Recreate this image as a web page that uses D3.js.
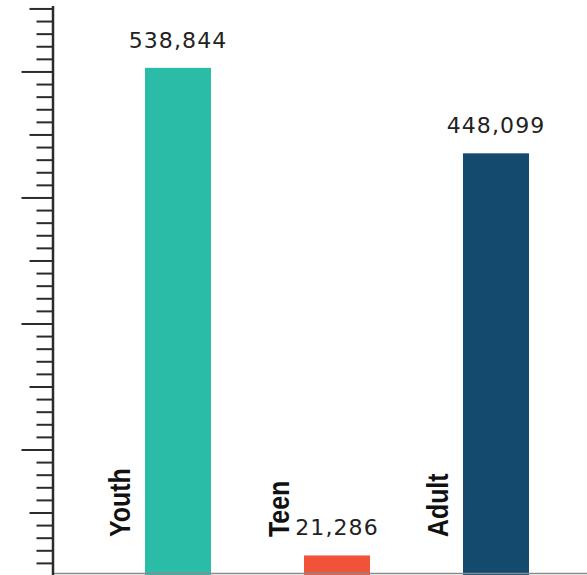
<!DOCTYPE html>
<html>
<head>
<meta charset="utf-8">
<script src="https://cdn.jsdelivr.net/npm/d3@7/dist/d3.min.js"></script>
<style>
  html, body { margin: 0; padding: 0; background: #fff; }
  svg { display: block; }
</style>
</head>
<body>
<svg id="chart" width="587" height="575"></svg>
<script>
// Member counts by age group
const categories = ["Youth", "Teen", "Adult"];
const values = [538844, 21286, 448099];
const colors = ["#2bbca8", "#f0523a", "#134a6e"];

// Unlabelled ruler on the left: minor step, medium every 5, major every 10
const yMax = 605000;
const tickStep = 13375;

const W = 587, H = 575;
const svg = d3.select("#chart");

const axisX = 52.5;
const y = d3.scaleLinear().domain([0, yMax]).range([575.5, 5.5]);

const x = d3.scaleBand()
  .domain(categories)
  .range([98.5, 575.5])
  .paddingInner(0.585)
  .paddingOuter(0.2925);

// Bars
svg.append("g")
  .selectAll("rect")
  .data(categories)
  .join("rect")
  .attr("x", d => x(d))
  .attr("width", x.bandwidth())
  .attr("y", (d, i) => y(values[i]))
  .attr("height", (d, i) => y(0) - y(values[i]))
  .attr("fill", (d, i) => colors[i]);

// Baseline
svg.append("line")
  .attr("x1", axisX).attr("x2", W)
  .attr("y1", 573.5).attr("y2", 573.5)
  .attr("stroke", "#8a8a8a")
  .attr("stroke-width", 1.5);

// Ruler axis
const tickVals = d3.range(1, Math.floor(yMax / tickStep) + 1).map(k => k * tickStep);
const axis = d3.axisLeft(y)
  .tickValues(tickVals)
  .tickSizeInner(16)
  .tickSizeOuter(0)
  .tickFormat("");

const gAxis = svg.append("g")
  .attr("transform", `translate(${axisX},0)`)
  .call(axis);

gAxis.select(".domain")
  .attr("stroke", "#2b2b2b")
  .attr("stroke-width", 2.5);

gAxis.selectAll(".tick line")
  .attr("stroke", "#2b2b2b")
  .attr("stroke-width", 2)
  .attr("x2", (d, i) => {
    const k = i + 1;
    if (k % 10 === 0) return -31;
    if (k % 5 === 0) return -23;
    return -16;
  });

// Value labels above bars
svg.append("g")
  .selectAll("text")
  .data(categories)
  .join("text")
  .attr("x", d => x(d) + x.bandwidth() / 2)
  .attr("y", (d, i) => y(values[i]) - 20)
  .attr("text-anchor", "middle")
  .attr("font-family", "'DejaVu Sans', sans-serif")
  .attr("font-size", 22)
  .attr("letter-spacing", 1.1)
  .attr("fill", "#222")
  .text((d, i) => d3.format(",")(values[i]));

// Rotated, slightly condensed category labels beside each bar
svg.append("g")
  .selectAll("text")
  .data(categories)
  .join("text")
  .attr("transform", d => `translate(${x(d) - 15},537) rotate(-90) scale(0.83,1)`)
  .attr("text-anchor", "start")
  .attr("font-family", "'Liberation Sans', Arial, sans-serif")
  .attr("font-weight", 700)
  .attr("font-size", 30)
  .attr("fill", "#111")
  .text(d => d);
</script>
</body>
</html>
